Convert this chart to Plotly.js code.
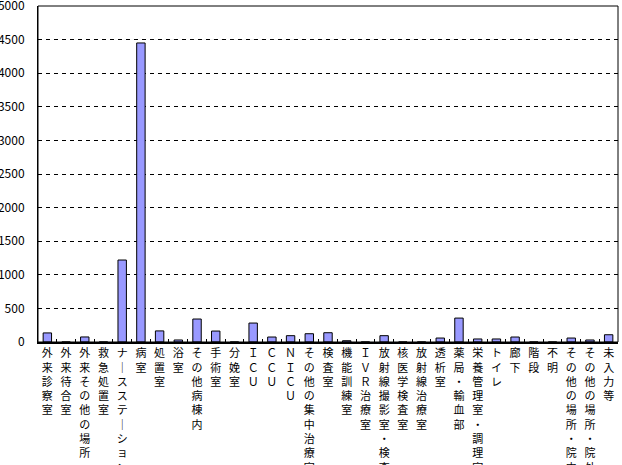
<!DOCTYPE html>
<html>
<head>
<meta charset="utf-8">
<script src="https://cdn.plot.ly/plotly-3.0.1.min.js"></script>
<style>html,body{margin:0;padding:0;background:#fff;}#chart{width:622px;height:465px;}</style>
</head>
<body>
<div id="chart"></div>
<script>
const categories = [
  "外来診察室","外来待合室","外来その他の場所","救急処置室","ナースステーション",
  "病室","処置室","浴室","その他病棟内","手術室","分娩室","ＩＣＵ","ＣＣＵ","ＮＩＣＵ",
  "その他の集中治療室","検査室","機能訓練室","ＩＶＲ治療室","放射線撮影室・検査",
  "核医学検査室","放射線治療室","透析室","薬局・輸血部","栄養管理室・調理室",
  "トイレ","廊下","階段","不明","その他の場所・院内","その他の場所・院外","未入力等"
];
const values = [
  135, 0, 75, 0, 1220,
  4450, 165, 30, 342, 163, 0, 282, 74, 94,
  123, 138, 19, 0, 94,
  0, 0, 59, 356, 45,
  45, 74, 0, 0, 59, 30, 108
];
const yTicks = [0,500,1000,1500,2000,2500,3000,3500,4000,4500,5000];

// vertical (stacked) display of the labels
const vert = s => Array.from(s).map(c => c === "ー" ? "｜" : c).join("<br>");
const tickText = categories.map(vert);

const font = "'Noto Sans CJK JP', 'Noto Sans', sans-serif";

Plotly.newPlot("chart", [{
  type: "bar",
  x: categories,
  y: values,
  marker: {color: "#9999FF", line: {color: "#000000", width: 1}},
  hoverinfo: "x+y"
}], {
  width: 622, height: 465,
  margin: {l: 38, r: 4, t: 6, b: 123},
  paper_bgcolor: "#ffffff", plot_bgcolor: "#ffffff",
  bargap: 0.55,
  showlegend: false,
  font: {family: font, size: 12, color: "#000"},
  xaxis: {
    type: "category",
    tickvals: categories,
    ticktext: tickText,
    tickangle: 0,
    tickson: "boundaries",
    ticks: "inside", ticklen: 3, tickcolor: "#000", tickwidth: 1,
    showline: true, linecolor: "#000", linewidth: 2,
    showgrid: false, zeroline: false,
    tickfont: {family: font, size: 11, color: "#000"},
    fixedrange: true
  },
  yaxis: {
    range: [0, 5000],
    tickvals: yTicks,
    ticktext: yTicks.map(String),
    showgrid: true, gridcolor: "#000", gridwidth: 1, griddash: "4px,4px",
    zeroline: false,
    showline: true, linecolor: "#000", linewidth: 1,
    ticks: "", ticklabelstandoff: 10,
    ticklabeloverflow: "allow",
    tickfont: {family: font, size: 12, color: "#000"},
    fixedrange: true
  },
  shapes: [{
    type: "rect", xref: "paper", yref: "paper", x0: 0, x1: 1, y0: 0, y1: 1,
    line: {color: "#000", width: 1}, fillcolor: "rgba(0,0,0,0)", layer: "above"
  }]
}, {displayModeBar: false, staticPlot: true});
</script>
</body>
</html>
